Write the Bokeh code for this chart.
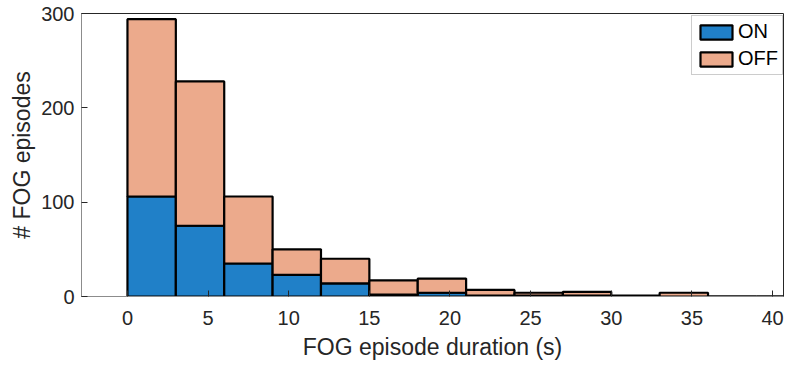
from bokeh.plotting import figure
from bokeh.models import Range1d, FixedTicker, Legend, LegendItem, ColumnDataSource
from bokeh.embed import file_html
from bokeh.resources import INLINE

# Histogram data (bin width 3 s)
bin_left = [0, 3, 6, 9, 12, 15, 18, 21, 24, 27, 30, 33, 36, 39]
on_counts = [106, 75, 35, 23, 14, 2, 4, 1, 1, 1, 0, 0, 0, 0]
off_counts = [188, 153, 71, 27, 26, 15, 15, 6, 3, 4, 1, 4, 0, 0]
bin_width = 3
x_ticks = [0, 5, 10, 15, 20, 25, 30, 35, 40]
y_ticks = [0, 100, 200, 300]

centers = [b + bin_width / 2 for b in bin_left]
totals = [a + b for a, b in zip(on_counts, off_counts)]
src = ColumnDataSource(dict(x=centers, on=on_counts, total=totals, zero=[0] * len(centers)))

FONT = "Liberation Sans"
TXT = "#262626"

p = figure(width=784, height=362, output_backend="svg", toolbar_location=None,
           x_range=Range1d(-2.85, 40.68), y_range=Range1d(0, 300),
           min_border_left=81, min_border_right=1, min_border_top=13, min_border_bottom=64)
p.xgrid.visible = False
p.ygrid.visible = False
p.outline_line_color = TXT
p.outline_line_width = 1

r_on = p.vbar(x="x", width=bin_width, bottom="zero", top="on", source=src,
              fill_color="#2080C8", line_color="black", line_width=2.2)
r_off = p.vbar(x="x", width=bin_width, bottom="on", top="total", source=src,
               fill_color="#ECAA8C", line_color="black", line_width=2.2)

for ax, ticks in ((p.xaxis[0], x_ticks), (p.yaxis[0], y_ticks)):
    ax.ticker = FixedTicker(ticks=ticks)
    ax.major_tick_in = 6
    ax.major_tick_out = 0
    ax.minor_tick_in = 0
    ax.minor_tick_out = 0
    ax.axis_line_color = "#8c8c8c"
    ax.major_tick_line_color = TXT
    ax.major_label_text_font = FONT
    ax.major_label_text_font_size = "20px"
    ax.major_label_text_color = TXT
    ax.axis_label_text_font = FONT
    ax.axis_label_text_font_size = "23px"
    ax.axis_label_text_font_style = "normal"
    ax.axis_label_text_color = TXT

p.xaxis[0].axis_label = "FOG episode duration (s)"
p.xaxis[0].major_label_standoff = 14
p.xaxis[0].axis_label_standoff = 6
p.yaxis[0].axis_label = "# FOG episodes"
p.yaxis[0].major_label_standoff = 7
p.yaxis[0].axis_label_standoff = 3

legend = Legend(items=[LegendItem(label="ON", renderers=[r_on]),
                       LegendItem(label="OFF", renderers=[r_off])],
                location=(610, 221))
legend.label_text_font = FONT
legend.label_text_font_size = "20px"
legend.label_text_color = "black"
legend.glyph_width = 40
legend.glyph_height = 18
legend.label_standoff = 2
legend.spacing = 4
legend.padding = 4
legend.margin = 0
legend.border_line_color = "#999999"
legend.border_line_width = 1
legend.label_height = 20
p.add_layout(legend)

open("out.html", "w").write(file_html(p, INLINE))
